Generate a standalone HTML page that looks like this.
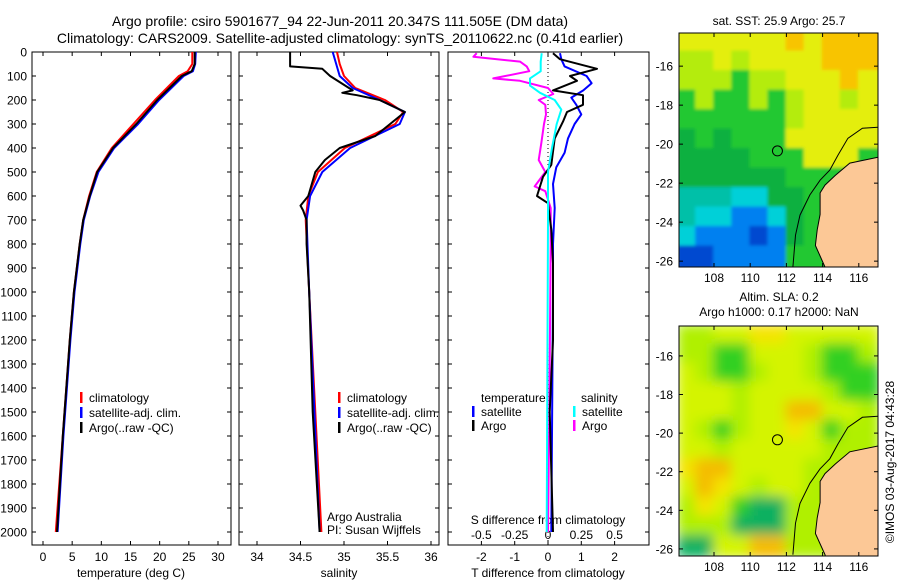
<!DOCTYPE html>
<html><head><meta charset="utf-8"><style>
body{margin:0;background:#fff;}
svg{font-family:"Liberation Sans",sans-serif;}
</style></head><body>
<svg id="s" width="900" height="580" viewBox="0 0 900 580">
<text x="340" y="26" font-size="14" text-anchor="middle">Argo profile: csiro 5901677_94 22-Jun-2011 20.347S 111.505E (DM data)</text>
<text x="340" y="43" font-size="14" text-anchor="middle">Climatology: CARS2009. Satellite-adjusted climatology: synTS_20110622.nc (0.41d earlier)</text>
<text x="779" y="25" font-size="12" text-anchor="middle">sat. SST: 25.9 Argo: 25.7</text>
<text x="779" y="301" font-size="12" text-anchor="middle">Altim. SLA: 0.2</text>
<text x="779" y="316" font-size="12" text-anchor="middle">Argo h1000: 0.17 h2000: NaN</text>
<text transform="translate(894,462) rotate(-90)" font-size="12" text-anchor="middle">©IMOS 03-Aug-2017 04:43:28</text>
<g id="g"></g>
</svg>
<script>
// ---- data ----
const tDepth=[0,50,80,100,200,300,400,500,600,700,800,1000,1200,1400,1600,1800,2000];
const tArgo=[26,26,25.5,23.8,19.6,16,12,9.3,8,6.9,6.3,5.3,4.6,4,3.4,2.9,2.4];
const tClim=[25.6,25.6,24.8,23.3,19.2,15.5,11.8,9.2,7.9,6.9,6.3,5.3,4.6,4,3.4,2.8,2.2];
const tSat=[26.2,26.1,25.7,24.1,19.9,16.3,12.2,9.5,8.1,7.0,6.4,5.4,4.7,4.1,3.5,3.0,2.5];
const sArgoDepth=[0,60,70,100,160,170,180,200,250,300,350,400,450,500,600,640,660,700,800,1000,1500,2000];
const sArgo=[34.38,34.38,34.75,34.84,35.10,34.98,35.15,35.41,35.70,35.53,35.36,34.95,34.78,34.67,34.59,34.50,34.53,34.57,34.57,34.60,34.64,34.72];
const sDepth=[0,50,100,150,200,250,300,400,500,600,700,1000,2000];
const sClim=[34.92,34.95,35.0,35.13,35.47,35.68,35.59,35.01,34.70,34.59,34.56,34.60,34.74];
const sSat=[34.87,34.91,34.95,35.10,35.41,35.70,35.64,35.07,34.75,34.61,34.57,34.60,34.72];
const dTArgoDepth=[5,30,70,100,120,160,180,220,250,290,360,470,520,600,630,740,880,1200,1500,2000];
const dTArgo=[0.15,0.36,1.47,0.66,0.87,0.15,1.05,1.05,0.57,0.45,0.2,0.1,-0.15,-0.33,0,0.1,0.15,0.15,0.05,0.15];
const dTSatDepth=[5,30,60,100,130,160,190,220,260,300,360,420,480,550,650,800,1000,2000];
const dTSat=[0.36,0.4,0.5,1.16,1.31,1.06,0.7,0.85,1.0,0.8,0.6,0.5,0.25,0.15,0.2,0.15,0.15,0.1];
const dSArgoDepth=[5,20,40,60,80,110,120,150,175,200,220,260,300,380,450,500,560,580,650,800,1500,2000];
const dSArgo=[-0.535,-0.56,-0.21,-0.16,-0.14,-0.41,-0.21,0,0.04,-0.07,-0.02,-0.015,-0.03,-0.05,-0.07,-0.02,-0.1,-0.02,0.02,0.02,0.01,0];
const dSSatDepth=[5,40,80,110,140,170,200,240,300,400,500,700,2000];
const dSSat=[-0.047,-0.055,-0.055,-0.135,-0.135,-0.06,0.05,0.1,0.065,0.03,0,0,-0.01];
const depthTicks=[0,100,200,300,400,500,600,700,800,900,1000,1100,1200,1300,1400,1500,1600,1700,1800,1900,2000];
const tTicks=[0,5,10,15,20,25,30];
const sTicks=[34,34.5,35,35.5,36];
const sTickLabels=["34","34.5","35","35.5","36"];
const dTTicks=[-2,-1,0,1,2];
const dSTicks=[-0.5,-0.25,0,0.25,0.5];
const lonTicks=[108,110,112,114,116];
const latTicks=[-16,-18,-20,-22,-24,-26];
const sstGrid=["YYYYYYOYOOO","LLYLYYYYOOO","LLLGLLYYYOY","GLGGLGLYYLY","GGGGGGLYYYY","gGgGGGYYYYY","ggggGGGYYYG","ggggggGGGGG","TTTCCggGGGG","TCCBBCgGGGG","CBBBDBgGGGG","DDBBBBGGGGG"];
const slaGrid=["LLYYyyYYYYY","LLGGYYYLGGL","YLGGLYYLGGG","YYYLYYYYLGG","YYYLYYOOYYL","YLGLYYyYGLL","YYLYYYYYLLL","yOOYYYYLLLL","YOyYLYYLLLL","LyYGTTLLLLL","LLLTTTLLLLL","TTYYOOLLLLL"];
const landLon=[117.1,117.06,115.5,114.7,114.13,113.86,113.86,113.7,113.6,114.13,114.2,117.1];
const landLat=[-20.67,-20.67,-20.97,-21.6,-22.1,-22.5,-23.6,-24.4,-25.2,-26.3,-26.6,-26.6];
const isoLon=[117.06,116.2,115.4,114.85,114.4,113.86,113.3,112.75,112.5,112.36];
const isoLat=[-19.13,-19.18,-19.7,-20.56,-21.33,-21.85,-22.6,-23.64,-24.67,-26.3];
const argoLon=111.505, argoLat=-20.347;

const NS="http://www.w3.org/2000/svg";
const G=document.getElementById('g');
function el(tag,attrs,parent,txt){const e=document.createElementNS(NS,tag);for(const k in attrs)e.setAttribute(k,attrs[k]);if(txt!==undefined)e.textContent=txt;(parent||G).appendChild(e);return e;}
const top0=52,bot=545;
const yD=d=>top0+d*0.24;
function line(xs,ds,fx,color,name,w){
  const pts=xs.map((v,i)=>fx(v).toFixed(1)+','+yD(ds[i]).toFixed(1)).join(' ');
  const p=el('polyline',{points:pts,fill:'none',stroke:color,'stroke-width':w||2,'stroke-linejoin':'round'});
  
  
}
function frame(x0,x1,y0,y1,name){
  const r=el('rect',{x:x0,y:y0,width:x1-x0,height:y1-y0,fill:'none',stroke:'#000','stroke-width':1});
  
  
}
function tickX(x,y0,y1,len){el('line',{x1:x,x2:x,y1:y1,y2:y1-len,stroke:'#000'});el('line',{x1:x,x2:x,y1:y0,y2:y0+len,stroke:'#000'});}
function tickY(y,x0,x1,len){el('line',{x1:x0,x2:x0+len,y1:y,y2:y,stroke:'#000'});el('line',{x1:x1,x2:x1-len,y1:y,y2:y,stroke:'#000'});}
function txt(x,y,s,name,anchor,size){const t=el('text',{x:x,y:y,'font-size':size||12,'text-anchor':anchor||'middle'},G,s);return t;}
function legend(x,y,color,label,name){
  const r=el('rect',{x:x,y:y-10,width:2.5,height:11,fill:color});
  
  
  txt(x+9,y,label,name,'start',12);
}

// ---- panel 1 temperature ----
const xT=t=>43+t*5.833;
frame(32,231,top0,bot,'temperature-axes');
depthTicks.forEach(d=>{tickY(yD(d),32,231,4);txt(27,yD(d)+4.5,String(d),'depth-tick-label','end',12);});
tTicks.forEach(t=>{tickX(xT(t),top0,bot,4);txt(xT(t),561,String(t),'temperature-tick-label','middle',12);});
txt(131,577,'temperature (deg C)','temperature-axis-title','middle',12);
line(tClim,tDepth,xT,'#ff0000','temperature-climatology-line');
line(tSat,tDepth,xT,'#0000ff','temperature-satellite-line');
line(tArgo,tDepth,xT,'#000000','temperature-argo-line');
legend(80,402,'#ff0000','climatology','temperature-legend-climatology');
legend(80,417,'#0000ff','satellite-adj. clim.','temperature-legend-satellite');
legend(80,432,'#000000','Argo(..raw -QC)','temperature-legend-argo');

// ---- panel 2 salinity ----
const xS=s=>257+(s-34)*87;
frame(239,439,top0,bot,'salinity-axes');
depthTicks.forEach(d=>tickY(yD(d),239,439,4));
sTicks.forEach((s,i)=>{tickX(xS(s),top0,bot,4);txt(xS(s),561,sTickLabels[i],'salinity-tick-label','middle',12);});
txt(339,577,'salinity','salinity-axis-title','middle',12);
line(sClim,sDepth,xS,'#ff0000','salinity-climatology-line');
line(sSat,sDepth,xS,'#0000ff','salinity-satellite-line');
line(sArgo,sArgoDepth,xS,'#000000','salinity-argo-line');
legend(338,402,'#ff0000','climatology','salinity-legend-climatology');
legend(338,417,'#0000ff','satellite-adj. clim.','salinity-legend-satellite');
legend(338,432,'#000000','Argo(..raw -QC)','salinity-legend-argo');
txt(327,521,'Argo Australia','argo-australia-label','start',12);
txt(327,534,'PI: Susan Wijffels','pi-label','start',12);

// ---- panel 3 differences ----
const xDT=t=>548+t*33.3;
const xDS=s=>548+s*133.3;
frame(448,649,top0,bot,'difference-axes');
depthTicks.forEach(d=>tickY(yD(d),448,649,4));
dTTicks.forEach(t=>{tickX(xDT(t),top0,bot,4);txt(xDT(t),561,String(t),'t-difference-tick-label','middle',12);});
dSTicks.forEach(s=>txt(xDS(s),539,String(s),'s-difference-tick-label','middle',12));
txt(548,524,'S difference from climatology','s-difference-axis-title','middle',12);
txt(548,577,'T difference from climatology','t-difference-axis-title','middle',12);
const z=el('line',{x1:xDT(0),x2:xDT(0),y1:top0,y2:bot,stroke:'#000','stroke-dasharray':'1,3'});


line(dSArgo,dSArgoDepth,xDS,'#ff00ff','salinity-difference-argo-line');
line(dTSat,dTSatDepth,xDT,'#0000ff','temperature-difference-satellite-line');
line(dTArgo,dTArgoDepth,xDT,'#000000','temperature-difference-argo-line');
line(dSSat,dSSatDepth,xDS,'#00ffff','salinity-difference-satellite-line');
txt(481,402,'temperature','diff-legend-temperature-header','start',12);
legend(472,416,'#0000ff','satellite','diff-legend-temperature-satellite');
legend(472,430,'#000000','Argo','diff-legend-temperature-argo');
txt(581,402,'salinity','diff-legend-salinity-header','start',12);
legend(573,416,'#00ffff','satellite','diff-legend-salinity-satellite');
legend(573,430,'#ff00ff','Argo','diff-legend-salinity-argo');

// ---- maps ----
const sstPal={Y:'#e4ee10',O:'#f8c400',L:'#b4ec10',G:'#20c830',g:'#10b040',T:'#00c0a8',C:'#00d0d8',B:'#0080f0',D:'#0048d0'};
const slaPal={Y:'#d4f400',y:'#f4e400',O:'#f4bc00',L:'#b0f000',G:'#30d020',T:'#10b060'};
function map(y0,y1,latTop,pxLat,grid,pal,name,blur){
  const x0=679,x1=878,lonL=106.1,pxLon=18.1;
  const X=lo=>714+(lo-108)*pxLon, Y=la=>y0+(latTop-la)*pxLat;
  const cid='clip'+name;
  const cp=el('clipPath',{id:cid});el('rect',{x:x0,y:y0,width:x1-x0,height:y1-y0},cp);
  const fid='f'+name;
  const f=el('filter',{id:fid,x:'-10%',y:'-10%',width:'120%',height:'120%'});el('feGaussianBlur',{stdDeviation:blur},f);
  const outer=el('g',{'clip-path':'url(#'+cid+')'});
  
  
  const cells=el('g',{filter:'url(#'+fid+')'},outer);
  const rows=grid.length, cols=grid[0].length;
  const ch=(y1-y0)/rows, cw=(x1-x0)/cols;
  grid.forEach((row,r)=>{[...row].forEach((c,k)=>{el('rect',{x:x0+k*cw-2,y:y0+r*ch-2,width:cw+4,height:ch+4,fill:pal[c]},cells);});});
  const land=el('polygon',{points:landLon.map((lo,i)=>X(lo).toFixed(1)+','+Y(landLat[i]).toFixed(1)).join(' '),fill:'#fcc896',stroke:'#000','stroke-width':1},outer);
  
  
  const iso=el('polyline',{points:isoLon.map((lo,i)=>X(lo).toFixed(1)+','+Y(isoLat[i]).toFixed(1)).join(' '),fill:'none',stroke:'#000','stroke-width':1},outer);
  
  
  const c=el('circle',{cx:X(argoLon),cy:Y(argoLat),r:5,fill:'none',stroke:'#000','stroke-width':1});
  
  
  frame(x0,x1,y0,y1,name+'-map-frame');
  lonTicks.forEach(lo=>{tickX(X(lo),y0,y1,4);txt(X(lo),y1+15,String(lo),name+'-lon-tick-label','middle',12);});
  latTicks.forEach(la=>{tickY(Y(la),x0,x1,4);txt(673,Y(la)+4.5,String(la),name+'-lat-tick-label','end',12);});
}
map(33,267,-14.3,19.5,sstGrid,sstPal,'sst',1.5);
map(326,556,-14.45,19.3,slaGrid,slaPal,'sla',6);
</script>
</body></html>
